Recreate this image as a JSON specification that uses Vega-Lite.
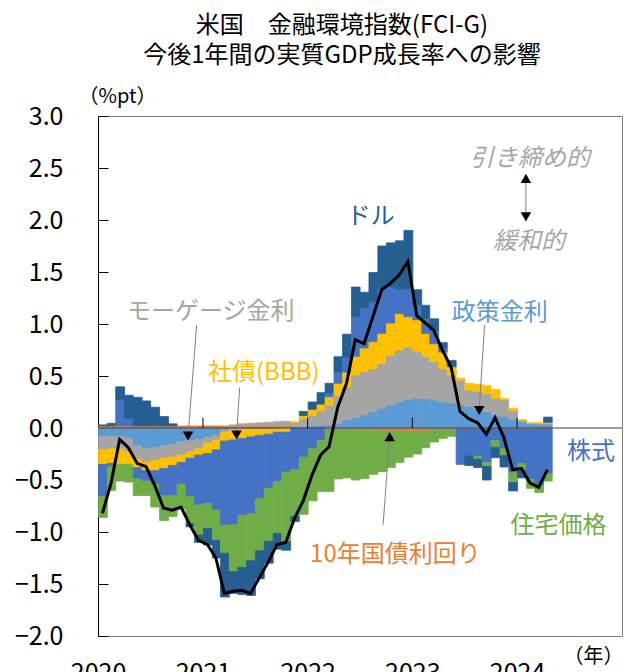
{
  "$schema": "https://vega.github.io/schema/vega-lite/v6.json",
  "width": 524,
  "height": 520,
  "autosize": {"type": "none"},
  "padding": {"left": 98, "top": 116, "right": 7, "bottom": 36},
  "config": {
    "font": "Noto Sans CJK JP",
    "view": {"stroke": "#7F7F7F", "strokeWidth": 1},
    "axis": {"grid": false}
  },
  "title": {
    "text": ["米国　金融環境指数(FCI-G)", "今後1年間の実質GDP成長率への影響"],
    "fontSize": 24,
    "fontWeight": "normal",
    "color": "#000000",
    "anchor": "middle",
    "frame": "group",
    "dx": -18,
    "offset": 18,
    "lineHeight": 30
  },
  "datasets": {
    "series": [
      {"key": "T", "name": "10年国債利回り", "k": 1},
      {"key": "P", "name": "政策金利", "k": 2},
      {"key": "M", "name": "モーゲージ金利", "k": 3},
      {"key": "B", "name": "社債(BBB)", "k": 4},
      {"key": "E", "name": "株式", "k": 5},
      {"key": "H", "name": "住宅価格", "k": 6},
      {"key": "D", "name": "ドル", "k": 7}
    ],
    "fci": [
      {"m": "2020-01-01", "T": 0.02, "P": -0.08, "M": -0.13, "B": -0.14, "E": -0.31, "H": -0.20, "D": 0.01, "F": -0.82},
      {"m": "2020-02-01", "T": 0.02, "P": -0.08, "M": -0.12, "B": -0.14, "E": -0.03, "H": -0.23, "D": 0.025, "F": -0.53},
      {"m": "2020-03-01", "T": 0.02, "P": -0.08, "M": -0.12, "B": -0.15, "E": 0.256, "H": -0.16, "D": 0.12, "F": -0.11},
      {"m": "2020-04-01", "T": 0.02, "P": -0.10, "M": -0.13, "B": -0.12, "E": 0.07, "H": -0.17, "D": 0.225, "F": -0.19},
      {"m": "2020-05-01", "T": 0.02, "P": -0.17, "M": -0.13, "B": -0.08, "E": -0.11, "H": -0.16, "D": 0.275, "F": -0.34},
      {"m": "2020-06-01", "T": 0.02, "P": -0.20, "M": -0.13, "B": -0.08, "E": -0.10, "H": -0.14, "D": 0.24, "F": -0.37},
      {"m": "2020-07-01", "T": 0.02, "P": -0.19, "M": -0.12, "B": -0.10, "E": -0.13, "H": -0.22, "D": 0.18, "F": -0.55},
      {"m": "2020-08-01", "T": 0.02, "P": -0.17, "M": -0.12, "B": -0.10, "E": -0.26, "H": -0.24, "D": 0.09, "F": -0.77},
      {"m": "2020-09-01", "T": 0.02, "P": -0.16, "M": -0.12, "B": -0.08, "E": -0.29, "H": -0.20, "D": 0.02, "F": -0.79},
      {"m": "2020-10-01", "T": 0.02, "P": -0.13, "M": -0.13, "B": -0.07, "E": -0.21, "H": -0.24, "D": 0, "F": -0.76},
      {"m": "2020-11-01", "T": 0.02, "P": -0.12, "M": -0.11, "B": -0.06, "E": -0.37, "H": -0.26, "D": -0.03, "F": -0.93},
      {"m": "2020-12-01", "T": 0.02, "P": -0.11, "M": -0.09, "B": -0.06, "E": -0.48, "H": -0.29, "D": -0.07, "F": -1.08},
      {"m": "2021-01-01", "T": 0.02, "P": -0.09, "M": -0.055, "B": -0.10, "E": -0.48, "H": -0.24, "D": -0.16, "F": -1.12},
      {"m": "2021-02-01", "T": 0.02, "P": -0.075, "M": -0.04, "B": -0.095, "E": -0.58, "H": -0.29, "D": -0.17, "F": -1.25},
      {"m": "2021-03-01", "T": 0.02, "P": -0.02, "M": -0.02, "B": -0.085, "E": -0.81, "H": -0.27, "D": -0.42, "F": -1.59},
      {"m": "2021-04-01", "T": 0.02, "P": -0.015, "M": 0.01, "B": -0.10, "E": -0.815, "H": -0.45, "D": -0.21, "F": -1.57},
      {"m": "2021-05-01", "T": 0.02, "P": -0.01, "M": 0.02, "B": -0.09, "E": -0.74, "H": -0.50, "D": -0.26, "F": -1.56},
      {"m": "2021-06-01", "T": 0.02, "P": -0.01, "M": 0.025, "B": -0.075, "E": -0.74, "H": -0.45, "D": -0.335, "F": -1.59},
      {"m": "2021-07-01", "T": 0.02, "P": -0.01, "M": 0.03, "B": -0.06, "E": -0.61, "H": -0.50, "D": -0.27, "F": -1.44},
      {"m": "2021-08-01", "T": 0.02, "P": -0.01, "M": 0.035, "B": -0.05, "E": -0.52, "H": -0.51, "D": -0.21, "F": -1.29},
      {"m": "2021-09-01", "T": 0.02, "P": -0.01, "M": 0.04, "B": -0.03, "E": -0.475, "H": -0.50, "D": -0.15, "F": -1.12},
      {"m": "2021-10-01", "T": 0.02, "P": -0.005, "M": 0.045, "B": -0.035, "E": -0.385, "H": -0.67, "D": -0.08, "F": -1.10},
      {"m": "2021-11-01", "T": 0.01, "P": 0, "M": 0.04, "B": 0.01, "E": -0.40, "H": -0.45, "D": -0.05, "F": -0.87},
      {"m": "2021-12-01", "T": 0.01, "P": 0, "M": 0.077, "B": 0.033, "E": -0.28, "H": -0.55, "D": 0.04, "F": -0.70},
      {"m": "2022-01-01", "T": 0.01, "P": 0.01, "M": 0.10, "B": 0.06, "E": -0.20, "H": -0.50, "D": 0.07, "F": -0.45},
      {"m": "2022-02-01", "T": 0.01, "P": 0.02, "M": 0.137, "B": 0.063, "E": -0.12, "H": -0.49, "D": 0.11, "F": -0.26},
      {"m": "2022-03-01", "T": -0.02, "P": 0.03, "M": 0.19, "B": 0.08, "E": 0.04, "H": -0.59, "D": 0.09, "F": -0.18},
      {"m": "2022-04-01", "T": -0.02, "P": 0.045, "M": 0.265, "B": 0.12, "E": 0.11, "H": -0.47, "D": 0.145, "F": 0.20},
      {"m": "2022-05-01", "T": -0.02, "P": 0.077, "M": 0.32, "B": 0.14, "E": 0.145, "H": -0.46, "D": 0.22, "F": 0.43},
      {"m": "2022-06-01", "T": -0.025, "P": 0.10, "M": 0.41, "B": 0.18, "E": 0.385, "H": -0.475, "D": 0.28, "F": 0.85},
      {"m": "2022-07-01", "T": -0.025, "P": 0.125, "M": 0.415, "B": 0.23, "E": 0.385, "H": -0.46, "D": 0.15, "F": 0.81},
      {"m": "2022-08-01", "T": -0.025, "P": 0.157, "M": 0.413, "B": 0.26, "E": 0.385, "H": -0.42, "D": 0.28, "F": 1.07},
      {"m": "2022-09-01", "T": -0.03, "P": 0.19, "M": 0.43, "B": 0.29, "E": 0.43, "H": -0.39, "D": 0.41, "F": 1.33},
      {"m": "2022-10-01", "T": -0.03, "P": 0.22, "M": 0.48, "B": 0.31, "E": 0.35, "H": -0.35, "D": 0.42, "F": 1.39},
      {"m": "2022-11-01", "T": -0.03, "P": 0.25, "M": 0.50, "B": 0.35, "E": 0.24, "H": -0.30, "D": 0.46, "F": 1.47},
      {"m": "2022-12-01", "T": -0.03, "P": 0.275, "M": 0.505, "B": 0.29, "E": 0.27, "H": -0.25, "D": 0.56, "F": 1.60},
      {"m": "2023-01-01", "T": -0.03, "P": 0.285, "M": 0.455, "B": 0.30, "E": 0.145, "H": -0.22, "D": 0.145, "F": 1.08},
      {"m": "2023-02-01", "T": -0.03, "P": 0.28, "M": 0.41, "B": 0.22, "E": 0.145, "H": -0.16, "D": 0.125, "F": 1.01},
      {"m": "2023-03-01", "T": -0.025, "P": 0.27, "M": 0.37, "B": 0.17, "E": 0.13, "H": -0.11, "D": 0.11, "F": 0.94},
      {"m": "2023-04-01", "T": -0.02, "P": 0.25, "M": 0.32, "B": 0.16, "E": 0.04, "H": -0.08, "D": 0.05, "F": 0.75},
      {"m": "2023-05-01", "T": -0.02, "P": 0.24, "M": 0.27, "B": 0.08, "E": 0, "H": -0.06, "D": 0.06, "F": 0.58},
      {"m": "2023-06-01", "T": -0.01, "P": 0.22, "M": 0.24, "B": 0.02, "E": -0.34, "H": 0, "D": 0, "F": 0.16},
      {"m": "2023-07-01", "T": -0.01, "P": 0.205, "M": 0.16, "B": 0.065, "E": -0.26, "H": 0, "D": -0.09, "F": 0.09},
      {"m": "2023-08-01", "T": -0.01, "P": 0.18, "M": 0.17, "B": 0.07, "E": -0.26, "H": -0.03, "D": -0.08, "F": 0.05},
      {"m": "2023-09-01", "T": -0.01, "P": 0.157, "M": 0.173, "B": 0.08, "E": -0.32, "H": -0.04, "D": -0.13, "F": -0.06},
      {"m": "2023-10-01", "T": -0.01, "P": 0.125, "M": 0.16, "B": 0.085, "E": -0.11, "H": -0.065, "D": -0.10, "F": 0.10},
      {"m": "2023-11-01", "T": -0.01, "P": 0.11, "M": 0.16, "B": 0.015, "E": -0.19, "H": -0.065, "D": -0.11, "F": -0.09},
      {"m": "2023-12-01", "T": -0.01, "P": 0.085, "M": 0.085, "B": 0.02, "E": -0.42, "H": -0.095, "D": -0.08, "F": -0.40},
      {"m": "2024-01-01", "T": -0.01, "P": 0.06, "M": 0.015, "B": 0.005, "E": -0.33, "H": -0.07, "D": -0.07, "F": -0.39},
      {"m": "2024-02-01", "T": -0.01, "P": 0.04, "M": 0.005, "B": 0.005, "E": -0.48, "H": -0.09, "D": 0, "F": -0.53},
      {"m": "2024-03-01", "T": -0.01, "P": 0.035, "M": 0.01, "B": 0.005, "E": -0.54, "H": -0.07, "D": 0, "F": -0.57},
      {"m": "2024-04-01", "T": -0.01, "P": 0.035, "M": 0.01, "B": 0.01, "E": -0.43, "H": -0.07, "D": 0.05, "F": -0.40}
    ],
    "labels": [
      {"name": "ドル", "d": "2022-08-09", "v": 2.03},
      {"name": "モーゲージ金利", "d": "2021-01-28", "v": 1.115},
      {"name": "社債(BBB)", "d": "2021-08-01", "v": 0.53},
      {"name": "政策金利", "d": "2023-11-02", "v": 1.105},
      {"name": "株式", "d": "2024-09-15", "v": -0.23},
      {"name": "住宅価格", "d": "2024-05-25", "v": -0.94},
      {"name": "10年国債利回り", "d": "2022-11-03", "v": -1.22}
    ],
    "arrows": [
      {"d1": "2020-12-10", "v1": 0.99, "d2": "2020-11-10", "v2": -0.077},
      {"d1": "2021-05-09", "v1": 0.39, "d2": "2021-04-28", "v2": -0.067},
      {"d1": "2023-09-10", "v1": 0.99, "d2": "2023-08-22", "v2": 0.168},
      {"d1": "2022-09-21", "v1": -0.93, "d2": "2022-10-14", "v2": -0.083},
      {"d1": "2024-02-01", "v1": 2.40, "d2": "2024-02-01", "v2": 2.03}
    ],
    "heads": [
      {"d": "2020-11-10", "v": -0.077, "s": "down"},
      {"d": "2021-04-28", "v": -0.067, "s": "down"},
      {"d": "2023-08-22", "v": 0.168, "s": "down"},
      {"d": "2022-10-14", "v": -0.083, "s": "up"},
      {"d": "2024-02-01", "v": 2.40, "s": "up"},
      {"d": "2024-02-01", "v": 2.03, "s": "down"}
    ]
  },
  "layer": [
    {
      "data": {"name": "fci"},
      "transform": [
        {"fold": ["T", "P", "M", "B", "E", "H", "D"], "as": ["key", "value"]},
        {"filter": "datum.value != 0"},
        {"lookup": "key", "from": {"data": {"name": "series"}, "key": "key", "fields": ["name", "k"]}}
      ],
      "mark": {"type": "bar", "binSpacing": 0, "timeUnitBandSize": 1, "timeUnitBandPosition": 0, "strokeWidth": 0.8},
      "encoding": {
        "x": {
          "field": "m", "type": "temporal", "timeUnit": "utcyearmonth",
          "scale": {"type": "utc", "domain": [{"year": 2020, "month": 1, "date": 1, "utc": true}, {"year": 2025, "month": 1, "date": 1, "utc": true}]},
          "axis": {
            "title": "（年）",
            "values": [
              {"year": 2020, "month": 1, "date": 1, "utc": true},
              {"year": 2021, "month": 1, "date": 1, "utc": true},
              {"year": 2022, "month": 1, "date": 1, "utc": true},
              {"year": 2023, "month": 1, "date": 1, "utc": true},
              {"year": 2024, "month": 1, "date": 1, "utc": true}
            ],
            "labelExpr": "utcFormat(datum.value, '%Y')",
            "ticks": false, "domain": false,
            "labelPadding": 24, "labelFontSize": 25, "labelColor": "#000000",
            "labelFlush": false, "labelOverlap": false, "labelBound": false,
            "titleFontSize": 20, "titleFontWeight": "normal", "titleColor": "#000000",
            "titleX": 495, "titleY": 20, "titleAlign": "center", "titleBaseline": "middle"
          }
        },
        "y": {
          "field": "value", "type": "quantitative", "stack": "zero",
          "scale": {"domain": [-2, 3], "nice": false, "zero": false},
          "axis": {
            "title": "（%pt）",
            "values": [-2, -1.5, -1, -0.5, 0, 0.5, 1, 1.5, 2, 2.5, 3],
            "format": ".1f",
            "labelFontSize": 25, "labelColor": "#000000",
            "tickColor": "#000000", "tickSize": -10, "labelPadding": 45,
            "domainColor": "#000000",
            "titleAngle": 0, "titleX": 19, "titleY": -20,
            "titleFontSize": 20, "titleFontWeight": "normal", "titleColor": "#000000",
            "titleAlign": "center", "titleBaseline": "middle"
          }
        },
        "color": {
          "field": "name", "type": "nominal",
          "scale": {
            "domain": ["10年国債利回り", "政策金利", "モーゲージ金利", "社債(BBB)", "株式", "住宅価格", "ドル"],
            "range": ["#ED7D31", "#5B9BD5", "#A5A5A5", "#FFC000", "#4472C4", "#70AD47", "#255E91"]
          },
          "legend": null
        },
        "stroke": {
          "field": "name", "type": "nominal",
          "scale": {
            "domain": ["10年国債利回り", "政策金利", "モーゲージ金利", "社債(BBB)", "株式", "住宅価格", "ドル"],
            "range": ["#ED7D31", "#5B9BD5", "#A5A5A5", "#FFC000", "#4472C4", "#70AD47", "#255E91"]
          },
          "legend": null
        },
        "order": {"field": "k", "type": "quantitative", "sort": "ascending"}
      }
    },
    {
      "data": {"values": [{}]},
      "mark": {"type": "rule", "color": "#404040", "strokeWidth": 1},
      "encoding": {"y": {"datum": 0}}
    },
    {
      "data": {"values": [{"t": "2021-01-01"}, {"t": "2022-01-01"}, {"t": "2023-01-01"}, {"t": "2024-01-01"}]},
      "mark": {"type": "rule", "color": "#000000", "strokeWidth": 1},
      "encoding": {
        "x": {"field": "t", "type": "temporal", "scale": {"type": "utc"}},
        "y": {"datum": 0},
        "y2": {"datum": 0.1}
      }
    },
    {
      "data": {"name": "fci"},
      "mark": {"type": "line", "color": "#000000", "strokeWidth": 3},
      "encoding": {
        "x": {"field": "m", "type": "temporal", "timeUnit": "utcyearmonth", "bandPosition": 0.5},
        "y": {"field": "F", "type": "quantitative"}
      }
    },
    {
      "data": {"name": "arrows"},
      "mark": {"type": "rule", "color": "#7F7F7F", "strokeWidth": 1},
      "encoding": {
        "x": {"field": "d1", "type": "temporal", "scale": {"type": "utc"}},
        "x2": {"field": "d2"},
        "y": {"field": "v1", "type": "quantitative"},
        "y2": {"field": "v2"}
      }
    },
    {
      "data": {"name": "heads"},
      "mark": {"type": "point", "filled": true, "color": "#000000", "opacity": 1, "size": 110},
      "encoding": {
        "x": {"field": "d", "type": "temporal", "scale": {"type": "utc"}},
        "y": {"field": "v", "type": "quantitative"},
        "shape": {"field": "s", "type": "nominal", "scale": {"domain": ["down", "up"], "range": ["triangle-down", "triangle-up"]}, "legend": null}
      }
    },
    {
      "data": {"name": "labels"},
      "mark": {"type": "text", "fontSize": 24, "align": "center", "baseline": "middle"},
      "encoding": {
        "x": {"field": "d", "type": "temporal", "scale": {"type": "utc"}},
        "y": {"field": "v", "type": "quantitative"},
        "text": {"field": "name"},
        "color": {"field": "name", "type": "nominal", "legend": null}
      }
    },
    {
      "data": {"values": [{"t": "引き締め的", "d": "2024-02-15", "v": 2.59}, {"t": "緩和的", "d": "2024-02-12", "v": 1.79}]},
      "mark": {"type": "text", "fontSize": 24, "fontStyle": "italic", "color": "#A6A6A6", "align": "center", "baseline": "middle"},
      "encoding": {
        "x": {"field": "d", "type": "temporal", "scale": {"type": "utc"}},
        "y": {"field": "v", "type": "quantitative"},
        "text": {"field": "t"}
      }
    }
  ]
}
